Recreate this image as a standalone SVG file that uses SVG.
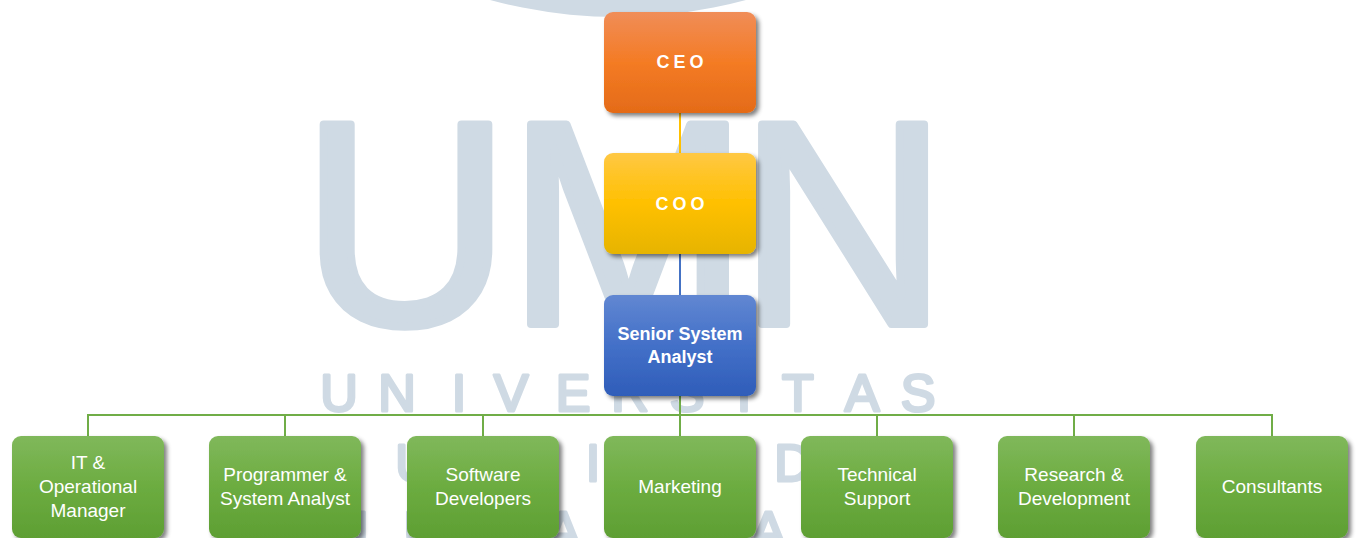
<svg xmlns="http://www.w3.org/2000/svg" width="1357" height="538" viewBox="0 0 1357 538">
<style>
.wm{fill:#cfdae4;stroke:#cfdae4;stroke-linejoin:round;font-family:"Liberation Sans",Arial,sans-serif}
.big{font-size:290px;stroke-width:8}
.mid{font-size:52px;stroke-width:3}
.box{stroke:none;filter:url(#sh)}
.t{fill:#ffffff;font-family:"Liberation Sans",Arial,sans-serif;text-anchor:middle}
.tb{font-weight:bold}
.g{font-size:19px}
.conn{fill:none;stroke-width:2}
</style>
<defs>
<filter id="sh" x="-10%" y="-10%" width="130%" height="130%">
<feGaussianBlur in="SourceAlpha" stdDeviation="2"/>
<feOffset dx="3" dy="3" result="b"/>
<feFlood flood-color="#000" flood-opacity="0.5"/>
<feComposite in2="b" operator="in"/>
<feMerge><feMergeNode/><feMergeNode in="SourceGraphic"/></feMerge>
</filter>
<linearGradient id="gOr" x1="0" y1="0" x2="0" y2="1">
<stop offset="0" stop-color="#f08d58"/><stop offset="0.5" stop-color="#f47b24"/><stop offset="1" stop-color="#e46b18"/>
</linearGradient>
<linearGradient id="gYe" x1="0" y1="0" x2="0" y2="1">
<stop offset="0" stop-color="#ffc844"/><stop offset="0.5" stop-color="#ffc000"/><stop offset="1" stop-color="#e6b400"/>
</linearGradient>
<linearGradient id="gBl" x1="0" y1="0" x2="0" y2="1">
<stop offset="0" stop-color="#6187d2"/><stop offset="0.5" stop-color="#4370c8"/><stop offset="1" stop-color="#2f5db9"/>
</linearGradient>
<linearGradient id="gGr" x1="0" y1="0" x2="0" y2="1">
<stop offset="0" stop-color="#80b85b"/><stop offset="0.5" stop-color="#6cac40"/><stop offset="1" stop-color="#5e9f33"/>
</linearGradient>
</defs>
<rect width="1357" height="538" fill="#ffffff"/>
<g id="watermark">
<circle cx="618" cy="-473" r="490" fill="#cfdae4"/>
<text class="wm big" x="406 628 843" y="324" text-anchor="middle">UMN</text>
<text class="wm mid" x="339 397 459 511 573 630 687 744 798 862 918" y="411" text-anchor="middle">UNIVERSITAS</text>
<text class="wm mid" x="320" y="481" letter-spacing="32">MULTIMEDIA</text>
<text class="wm mid" x="331" y="548" letter-spacing="35">NUSANTARA</text>
</g>
<g id="connectors">
<line class="conn" x1="680" y1="113" x2="680" y2="153" stroke="#ffc000"/>
<line class="conn" x1="680" y1="254" x2="680" y2="295" stroke="#4472c4"/>
<path class="conn" stroke="#70ad47" stroke-width="2.5" d="M680 396V415M88 436V415H1272V436M285 415V436M483 415V436M680 415V436M877 415V436M1074 415V436"/>
</g>
<g id="ceo">
<rect class="box" x="604" y="12" width="152" height="101" rx="9" fill="url(#gOr)"/>
<text class="t tb" x="682" y="68" font-size="18" letter-spacing="4">CEO</text>
</g>
<g id="coo">
<rect class="box" x="604" y="153" width="152" height="101" rx="9" fill="url(#gYe)"/>
<text class="t tb" x="682" y="210" font-size="18" letter-spacing="4">COO</text>
</g>
<g id="ssa">
<rect class="box" x="604" y="295" width="152" height="101" rx="9" fill="url(#gBl)"/>
<text class="t tb" font-size="18"><tspan x="680" y="340">Senior System</tspan><tspan x="680" y="363">Analyst</tspan></text>
</g>
<g id="it">
<rect class="box" x="12" y="436" width="152" height="102" rx="9" fill="url(#gGr)"/>
<text class="t g"><tspan x="88" y="469">IT &amp;</tspan><tspan x="88" y="493">Operational</tspan><tspan x="88" y="517">Manager</tspan></text>
</g>
<g id="prog">
<rect class="box" x="209" y="436" width="152" height="102" rx="9" fill="url(#gGr)"/>
<text class="t g"><tspan x="285" y="481">Programmer &amp;</tspan><tspan x="285" y="505">System Analyst</tspan></text>
</g>
<g id="soft">
<rect class="box" x="407" y="436" width="152" height="102" rx="9" fill="url(#gGr)"/>
<text class="t g"><tspan x="483" y="481">Software</tspan><tspan x="483" y="505">Developers</tspan></text>
</g>
<g id="mkt">
<rect class="box" x="604" y="436" width="152" height="102" rx="9" fill="url(#gGr)"/>
<text class="t g" x="680" y="493">Marketing</text>
</g>
<g id="tech">
<rect class="box" x="801" y="436" width="152" height="102" rx="9" fill="url(#gGr)"/>
<text class="t g"><tspan x="877" y="481">Technical</tspan><tspan x="877" y="505">Support</tspan></text>
</g>
<g id="rnd">
<rect class="box" x="998" y="436" width="152" height="102" rx="9" fill="url(#gGr)"/>
<text class="t g"><tspan x="1074" y="481">Research &amp;</tspan><tspan x="1074" y="505">Development</tspan></text>
</g>
<g id="cons">
<rect class="box" x="1196" y="436" width="152" height="102" rx="9" fill="url(#gGr)"/>
<text class="t g" x="1272" y="493">Consultants</text>
</g>
</svg>
